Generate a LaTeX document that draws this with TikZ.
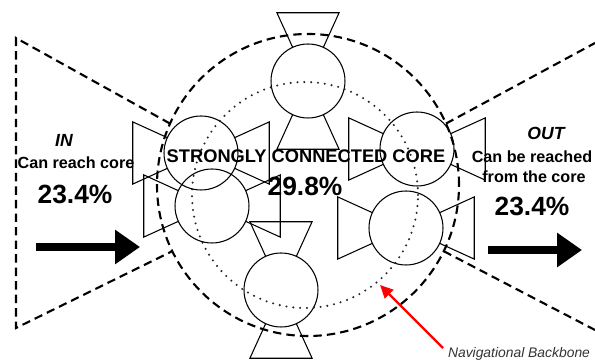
\documentclass[tikz,border=0pt]{standalone}
\usepackage{fontspec}
\setmainfont{Liberation Sans}
\usetikzlibrary{calc,arrows.meta}
\tikzstyle{core} = [circle, draw=black, line width=0.6pt, minimum size=1.48cm, inner sep=0pt, outer sep=0pt]
\tikzstyle{funnel} = [draw=black, line width=0.6pt, line join=miter]
\tikzstyle{region} = [draw=black, line width=1.2pt, dash pattern=on 4.8pt off 2.9pt]
\tikzstyle{backbone} = [draw=black!85, line width=1.3pt, line cap=round, dash pattern=on 0pt off 3.9pt]
\tikzstyle{title} = [inner sep=0pt, font=\bfseries\fontsize{9.2}{10}\selectfont]
\tikzstyle{share} = [inner sep=0pt, font=\bfseries\fontsize{15}{17}\selectfont]
\tikzstyle{flow} = [line width=4pt, -{Triangle[length=0.5cm,width=0.66cm]}]
\newcommand{\drawfunnel}[2]{%
  \draw[funnel] ($(#1)+(#2+24.5:37)$) -- ($(#1)+(#2+24.5:75)$) -- ($(#1)+(#2-24.5:75)$) -- ($(#1)+(#2-24.5:37)$);}

\begin{document}
\begin{tikzpicture}[x=0.02cm,y=0.02cm]
        \useasboundingbox (0,0) rectangle (595,361);
        % core pages with their in and out links
        \node[core] (top) at (308,280) {};
        \node[core] (upleft) at (201,208) {};
        \node[core] (lowleft) at (212,155) {};
        \node[core] (bottom) at (281,71) {};
        \node[core] (upright) at (417,212) {};
        \node[core] (lowright) at (406,133) {};
        \foreach \n/\a in {top/90, upleft/0, lowleft/0, bottom/90, upright/0, lowright/0} {
            \drawfunnel{\n}{\a}
            \drawfunnel{\n}{\a+180}
        }
        % backbone and core boundary
        \node[circle, minimum size=4.52cm, inner sep=0pt] (nav) at (305,166) {};
        \draw[backbone] (nav.center) circle (113);
        \node[circle, minimum size=6.04cm, inner sep=0pt] (scc) at (308,176) {};
        \draw[region] (scc.center) circle (151);
        % IN and OUT sets
        \coordinate (inTop) at ($(scc.center)+(156:151)$);
        \coordinate (inBot) at ($(scc.center)+(206:151)$);
        \coordinate (outTop) at ($(scc.center)+(24:151)$);
        \coordinate (outBot) at ($(scc.center)+(-26:151)$);
        \coordinate (inNW) at (16,323);
        \coordinate (inSW) at (16,33);
        \coordinate (outNE) at (595,318);
        \coordinate (outSE) at (595,31);
        \draw[region] (inTop) -- (inNW) -- (inSW) -- (inBot);
        \draw[region] (outTop) -- (outNE);
        \draw[region] (outBot) -- (outSE);
        % texts
        \node[inner sep=0pt, font=\bfseries\itshape\fontsize{10}{12}\selectfont] (inName) at (64,221) {IN};
        \node[title] (inText) at (76,198) {Can reach core};
        \node[share] (inShare) at (75,167) {23.4\%};
        \node[inner sep=0pt, font=\bfseries\itshape\fontsize{10}{12}\selectfont] (outName) at (546,228) {OUT};
        \node[title] (outText) at (532,204) {Can be reached};
        \node[title] (outText2) at (534,184) {from the core};
        \node[share] (outShare) at (532,155) {23.4\%};
        \node[inner sep=0pt, font=\bfseries\fontsize{10.4}{12}\selectfont] (sccName) at (306,205) {STRONGLY CONNECTED CORE};
        \node[share] (sccShare) at (305,175) {29.8\%};
        \node[inner sep=0pt, text=black!80, font=\itshape\fontsize{7.9}{9}\selectfont] (navName) at (519,7) {Navigational Backbone};
        % arrows
        \coordinate (inTail) at (36,114);
        \coordinate (inHead) at (140,114);
        \coordinate (outTail) at (488,111);
        \coordinate (outHead) at (582,111);
        \draw[flow] (inTail) -- (inHead);
        \draw[flow] (outTail) -- (outHead);
        \coordinate (navTail) at (443,13);
        \coordinate (navTip) at (380,76);
        \draw[red, line width=1.4pt, -{Triangle[length=0.26cm,width=0.24cm]}] (navTail) -- (navTip);
    \end{tikzpicture}
\end{document}
